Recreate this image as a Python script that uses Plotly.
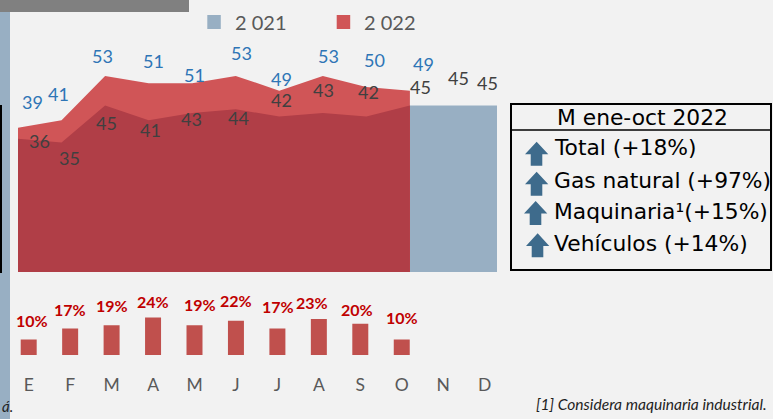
import plotly.graph_objects as go

W, H = 773, 419

# ---------------- data ----------------
months = ["E", "F", "M", "A", "M", "J", "J", "A", "S", "O", "N", "D"]
v2021 = [36, 35, 45, 41, 43, 44, 42, 43, 42, 45, 45, 45]
v2022 = [39, 41, 53, 51, 51, 53, 49, 53, 50, 49]
growth = [10, 17, 19, 24, 19, 22, 17, 23, 20, 10]
legend_labels = ["2 021", "2 022"]
box_title = "M ene-oct 2022"
box_rows = ["Total (+18%)", "Gas natural (+97%)", "Maquinaria¹(+15%)", "Vehículos (+14%)"]
footnote = "[1] Considera maquinaria industrial."

# ---------------- styles / label offsets (px) ----------------
C_BLUE = "#98afc3"
C_RED = "#d05557"
C_DARK = "#b03e47"
C_BAR = "#c0504d"
C_LAB22 = "#2e75b6"
C_LAB21 = "#404040"
C_GREY = "#595959"
C_ARROW = "#3e6b8c"
FONT = "Lato"
BOX_FONT = "DejaVu Sans"
BOX_SIZE = 21.8

off22_dx = [14, -3.5, -3, 4.4, 2.3, 5.3, 2.7, 5.2, 8.6, 13.1]
off22_dy = [-26, -26.6, -19.4, -21.8, -7.8, -22.9, -12, -19.4, -27, -26.7]
off21_dx = [21.5, 7.5, 1.9, 2.1, -0.5, 2.3, 2.7, 0.2, 2.6, 10.8, 5.5, -10]
off21_dy = [1.9, 15.5, 17.8, 9.7, 6.4, 8.8, -16.9, -23.2, -24.6, -18.8, -27.7, -22.7]
offbar_dx = [2.8, 0, 0.7, -0.2, 5.5, -0.2, 0.5, -6.5, -3, -0.2]
offbar_dy = [-19.4, -19, -19.9, -15.9, -20.9, -20.4, -21.5, -16.4, -14.3, -21.9]


def px(x):
    return x / W


def py(y):
    return 1 - y / H


fig = go.Figure()

idx21 = list(range(len(v2021)))
idx22 = list(range(len(v2022)))

# 2021 full (blue)
fig.add_trace(go.Scatter(x=idx21, y=v2021, mode="lines", fill="tozeroy",
                         fillcolor=C_BLUE, line=dict(width=0, color=C_BLUE),
                         hoverinfo="skip", showlegend=False))
# 2022 (red)
fig.add_trace(go.Scatter(x=idx22, y=v2022, mode="lines", fill="tozeroy",
                         fillcolor=C_RED, line=dict(width=0, color=C_RED),
                         hoverinfo="skip", showlegend=False))
# 2021 overlapped part (dark red)
fig.add_trace(go.Scatter(x=idx22, y=v2021[:len(v2022)], mode="lines", fill="tozeroy",
                         fillcolor=C_DARK, line=dict(width=0, color=C_DARK),
                         hoverinfo="skip", showlegend=False))
# growth bars
fig.add_trace(go.Bar(x=idx22, y=growth, width=0.386, marker=dict(color=C_BAR, line=dict(width=0)),
                     xaxis="x2", yaxis="y2", hoverinfo="skip", showlegend=False))

annotations = []
for i, v in enumerate(v2022):
    annotations.append(dict(x=i, y=v, xref="x", yref="y", text=str(v), showarrow=False,
                            xanchor="center", yanchor="middle",
                            xshift=off22_dx[i], yshift=-off22_dy[i],
                            font=dict(family=FONT, size=18, color=C_LAB22)))
for i, v in enumerate(v2021):
    annotations.append(dict(x=i, y=v, xref="x", yref="y", text=str(v), showarrow=False,
                            xanchor="center", yanchor="middle",
                            xshift=off21_dx[i], yshift=-off21_dy[i],
                            font=dict(family=FONT, size=18, color=C_LAB21)))
for i, v in enumerate(growth):
    annotations.append(dict(x=i, y=v, xref="x2", yref="y2", text=f"<b>{v}%</b>", showarrow=False,
                            xanchor="center", yanchor="middle",
                            xshift=offbar_dx[i], yshift=-offbar_dy[i],
                            font=dict(family=FONT, size=16, color="#c00000")))

# legend texts
annotations.append(dict(x=px(232.7), y=py(22.2), xref="paper", yref="paper", text=legend_labels[0],
                        showarrow=False, xanchor="left", yanchor="middle",
                        font=dict(family=FONT, size=20, color=C_GREY)))
annotations.append(dict(x=px(361.7), y=py(22.2), xref="paper", yref="paper", text=legend_labels[1],
                        showarrow=False, xanchor="left", yanchor="middle",
                        font=dict(family=FONT, size=20, color=C_GREY)))

# box texts
annotations.append(dict(x=px(642.5), y=py(117), xref="paper", yref="paper", text=box_title,
                        showarrow=False, xanchor="center", yanchor="middle",
                        font=dict(family=BOX_FONT, size=BOX_SIZE, color="black")))
row_y = [147.5, 180.8, 211, 243]
for t, yc in zip(box_rows, row_y):
    annotations.append(dict(x=px(552), y=py(yc), xref="paper", yref="paper", text=t,
                            showarrow=False, xanchor="left", yanchor="middle",
                            font=dict(family=BOX_FONT, size=BOX_SIZE, color="black")))

# footnote
annotations.append(dict(x=px(769), y=py(404.4), xref="paper", yref="paper",
                        text=f"<i>{footnote}</i>", showarrow=False, xanchor="right", yanchor="middle",
                        font=dict(family=FONT, size=15.6, color="#1f1f1f")))
annotations.append(dict(x=px(0), y=py(406), xref="paper", yref="paper",
                        text="<i>á.</i>", showarrow=False, xanchor="left", yanchor="middle",
                        font=dict(family=FONT, size=15, color="#1f1f1f")))

shapes = []
# left blue strip, banner, black bar
shapes.append(dict(type="rect", xref="paper", yref="paper", x0=px(0), x1=px(10), y0=py(419), y1=py(0),
                   fillcolor=C_BLUE, line=dict(width=0), layer="below"))
shapes.append(dict(type="rect", xref="paper", yref="paper", x0=px(0), x1=px(189), y0=py(12), y1=py(0),
                   fillcolor="#808080", line=dict(width=0), layer="below"))
shapes.append(dict(type="rect", xref="paper", yref="paper", x0=px(0), x1=px(2), y0=py(273), y1=py(105),
                   fillcolor="black", line=dict(width=0), layer="above"))
# legend squares
shapes.append(dict(type="rect", xref="paper", yref="paper", x0=px(207.3), x1=px(220.8), y0=py(29), y1=py(15),
                   fillcolor=C_BLUE, line=dict(width=0)))
shapes.append(dict(type="rect", xref="paper", yref="paper", x0=px(336.7), x1=px(350.2), y0=py(29), y1=py(15),
                   fillcolor=C_RED, line=dict(width=0)))
# box
shapes.append(dict(type="rect", xref="paper", yref="paper", x0=px(511), x1=px(771), y0=py(270), y1=py(104),
                   line=dict(width=2, color="black"), fillcolor="rgba(0,0,0,0)"))
shapes.append(dict(type="line", xref="paper", yref="paper", x0=px(511), x1=px(771), y0=py(130), y1=py(130),
                   line=dict(width=1.5, color="black")))
# arrows
arrow_top = [141.7, 171.7, 201, 233.3]
arrow_left = [525, 525, 524, 526]
for t, l in zip(arrow_top, arrow_left):
    pts = [(l + 11.65, t), (l + 23.3, t + 12.6), (l + 17.3, t + 12.6), (l + 17.3, t + 24),
           (l + 5.7, t + 24), (l + 5.7, t + 12.6), (l, t + 12.6)]
    path = "M " + " L ".join(f"{px(a):.5f},{py(b):.5f}" for a, b in pts) + " Z"
    shapes.append(dict(type="path", xref="paper", yref="paper", path=path,
                       fillcolor=C_ARROW, line=dict(width=0)))

step = 41.45
x2_left = 28.7 - 0.5 * step
x2_right = 28.7 + 11 * step + 0.5 * step

fig.update_layout(
    width=W, height=H,
    margin=dict(l=0, r=0, t=0, b=0),
    paper_bgcolor="#f2f2f2", plot_bgcolor="rgba(0,0,0,0)",
    showlegend=False,
    xaxis=dict(range=[0, 11], domain=[px(18), px(497)], visible=False, fixedrange=True),
    yaxis=dict(range=[0, 70], domain=[py(272), py(13)], visible=False, fixedrange=True),
    xaxis2=dict(range=[-0.5, 11.5], domain=[px(x2_left), px(x2_right)], anchor="y2",
                tickmode="array", tickvals=list(range(12)), ticktext=months,
                showgrid=False, zeroline=False, showline=False, ticks="",
                ticklabelstandoff=17, fixedrange=True,
                tickfont=dict(family=FONT, size=17.5, color=C_GREY)),
    yaxis2=dict(range=[0, 65 / 1.56], domain=[py(355), py(290)], anchor="x2", visible=False,
                fixedrange=True),
    annotations=annotations,
    shapes=shapes,
)

fig.write_html("out.html", config={"displayModeBar": False},
               post_script="document.body.style.margin='0';document.body.style.overflow='hidden';")
